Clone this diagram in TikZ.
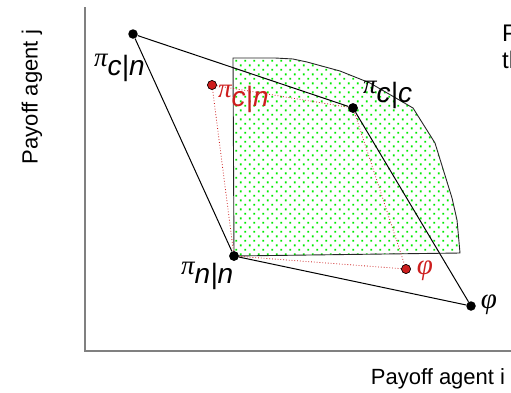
\documentclass[tikz,border=0pt]{standalone}
\usepackage{fontspec}
\setmainfont{Liberation Sans}
\newfontfamily\grk{Liberation Serif}
\usetikzlibrary{patterns.meta}
\definecolor{dotgreen}{RGB}{0,235,0}
\definecolor{axisgray}{RGB}{128,128,128}
\definecolor{ptred}{RGB}{205,30,30}
\tikzdeclarepattern{
  name=gdots, type=uncolored,
  bottom left={(0pt,0pt)}, top right={(9.4pt,9.4pt)}, tile size={(9.4pt,9.4pt)},
  code={\fill (1.4pt,1.4pt) rectangle (3.3pt,3.3pt);
        \fill (6.1pt,6.1pt) rectangle (8pt,8pt);}
}
\newcommand{\pilab}[1]{{\fontsize{27}{27}\selectfont\grk\itshape π}\raisebox{-9pt}{\fontsize{28}{28}\selectfont\itshape #1}}
\begin{document}
\begin{tikzpicture}[x=1pt,y=-1pt,
  axisline/.style={draw=axisgray,line width=1.5pt},
  region/.style={draw=black!85,line width=0.9pt,pattern={gdots},pattern color=dotgreen},
  blackedge/.style={draw=black,line width=1pt},
  rededge/.style={draw=ptred,line width=0.8pt,dotted},
  bdot/.style={circle,fill=black,minimum size=9.5pt,inner sep=0pt},
  rdot/.style={circle,fill=ptred,draw=black,line width=0.5pt,minimum size=9pt,inner sep=0pt},
  lab/.style={inner sep=0pt,anchor=base west},
  phil/.style={inner sep=0pt,font=\fontsize{29}{29}\selectfont\grk\itshape},
  axlab/.style={inner sep=0pt,font=\fontsize{22}{22}\selectfont}
]
\useasboundingbox (0,0) rectangle (511,392);
\clip (0,0) rectangle (511,392);
% axes
\coordinate (ytop) at (85,7);
\coordinate (orig) at (85,351);
\coordinate (xend) at (511,351);
\draw[axisline] (ytop) -- (orig) -- (xend);
% feasible region
\path[region] (233,58) -- (275,58) -- (293,59) -- (307,62) -- (340,71) -- (370,83)
  -- (413,108) -- (435,143) -- (452,198) -- (457,220) -- (460,253) -- (234,256) -- cycle;
% points
\node[bdot] (cn) at (133,34) {};
\node[bdot] (cc) at (353,108) {};
\node[bdot] (nn) at (234,256) {};
\node[bdot] (ph) at (471,306) {};
\node[rdot] (rcn) at (212,85) {};
\node[rdot] (rph) at (406,269) {};
% black quadrilateral
\draw[blackedge] (cn) -- (cc) -- (ph) -- (nn) -- (cn);
% red dotted quadrilateral
\draw[rededge] (rcn) -- (cc) -- (rph) -- (nn) -- (rcn);
% redraw dots on top
\node[bdot] at (cc) {};
\node[bdot] at (nn) {};
\node[rdot] at (rcn) {};
\node[rdot] at (rph) {};
% labels
\node[lab] (lcn) at (94,66) {\pilab{c|n}};
\node[lab] (lcc) at (363,93) {\pilab{c|c}};
\node[lab,text=ptred] (lrcn) at (218,97) {\pilab{c|n}};
\node[lab] (lnn) at (181,274) {\pilab{n|n}};
\node[phil] (lph) at (489,305) {φ};
\node[phil,text=ptred] (lrph) at (425,271) {φ};
% axis labels
\node[axlab,anchor=base] (xl) at (438,384) {Payoff agent i};
\node[axlab,rotate=90] (yl) at (32,97) {Payoff agent j};
% cut-off text at top right (cut off in the reference too)
\node[inner sep=0pt,anchor=base west,font=\fontsize{24}{24}\selectfont] (t1) at (502,41) {P};
\node[inner sep=0pt,anchor=base west,font=\fontsize{24}{24}\selectfont] (t2) at (502,68) {th};
\end{tikzpicture}
\end{document}
